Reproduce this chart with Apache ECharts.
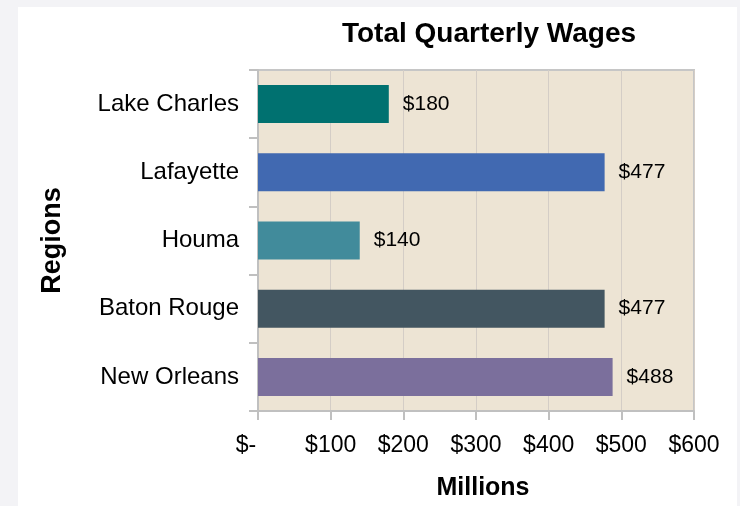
<!DOCTYPE html>
<html>
<head>
<meta charset="utf-8">
<script src="https://cdn.jsdelivr.net/npm/echarts@6/dist/echarts.min.js"></script>
<style>
    html, body { margin: 0; padding: 0; background: #f3f3f6; }
    #char1 { width: 740px; height: 506px; }
</style>
</head>
<body>
<div id="char1"></div>
<script>
// 数据
var regions = ["Lake Charles", "Lafayette", "Houma", "Baton Rouge", "New Orleans"];
var wages = [180, 477, 140, 477, 488];
var barColors = ["#007170", "#4169b1", "#418b9b", "#435661", "#7b6f9c"];

var font = "'Liberation Sans', Arial, sans-serif";

function char1() {
    var myChart = echarts.init(document.getElementById("char1"));

    var option = {
        backgroundColor: "#f3f3f6",
        graphic: [
            {
                type: "rect",
                z: -10,
                shape: { x: 18, y: 7, width: 719, height: 499 },
                style: { fill: "#ffffff" },
            },
        ],
        title: {
            text: "Total Quarterly Wages",
            left: 484,
            top: 15,
            textAlign: "center",
            textStyle: {
                fontFamily: font,
                fontSize: 28,
                fontWeight: "bold",
                color: "#000",
            },
        },
        grid: {
            left: 258,
            right: 46,
            top: 70,
            bottom: 93,
            show: true,
            backgroundColor: "#ede4d4",
            borderColor: "#c6c6c6",
            borderWidth: 2,
        },
        xAxis: {
            type: "value",
            min: 0,
            max: 600,
            interval: 100,
            name: "Millions",
            nameLocation: "middle",
            nameGap: 65,
            nameTextStyle: {
                fontFamily: font,
                fontSize: 25,
                fontWeight: "bold",
                color: "#000",
                padding: [0, 0, 0, 14],
            },
            axisLine: { show: true, lineStyle: { color: "#c0c0c0", width: 2 } },
            axisTick: { show: true, length: 9, lineStyle: { color: "#c0c0c0", width: 2 } },
            axisLabel: {
                margin: 23,
                fontFamily: font,
                fontSize: 23,
                color: "#000",
                formatter: function (v) {
                    return v === 0 ? "{z|$-}" : "$" + v;
                },
                rich: {
                    z: { fontFamily: font, fontSize: 23, color: "#000", padding: [0, 24, 0, 0] },
                },
            },
            splitLine: { show: true, lineStyle: { color: "#d4cdc6", width: 1 } },
        },
        yAxis: {
            type: "category",
            data: regions,
            inverse: true,
            name: "Regions",
            nameLocation: "middle",
            nameRotate: 90,
            nameGap: 192,
            nameTextStyle: {
                fontFamily: font,
                fontSize: 27,
                fontWeight: "bold",
                color: "#000",
            },
            axisLine: { show: true, lineStyle: { color: "#c0c0c0", width: 2 } },
            axisTick: { show: true, length: 9, lineStyle: { color: "#c0c0c0", width: 2 } },
            axisLabel: {
                margin: 19,
                fontFamily: font,
                fontSize: 24,
                color: "#000",
            },
            splitLine: { show: false },
        },
        series: [
            {
                name: "Total Quarterly Wages",
                type: "bar",
                barWidth: 38,
                data: wages.map(function (v, i) {
                    return { value: v, itemStyle: { color: barColors[i] } };
                }),
                label: {
                    show: true,
                    position: "right",
                    distance: 14,
                    fontFamily: font,
                    fontSize: 21,
                    color: "#000",
                    formatter: function (p) {
                        return "$" + p.value;
                    },
                },
            },
        ],
    };

    myChart.setOption(option);
    window.addEventListener("resize", function () {
        myChart.resize();
    });
}

char1();
</script>
</body>
</html>
